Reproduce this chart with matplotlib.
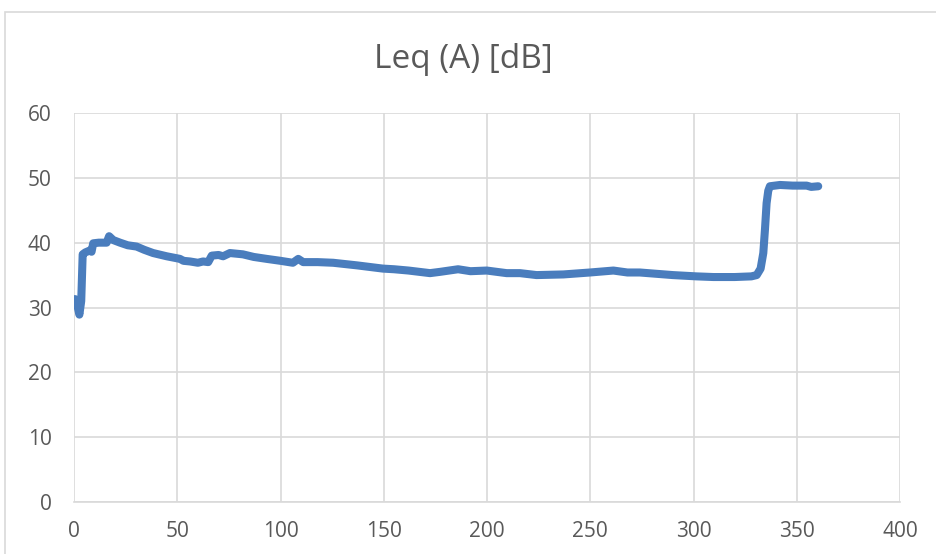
import matplotlib.pyplot as plt
from matplotlib.patches import Rectangle

# time [s] and Leq(A) [dB]
time_s = [0.5, 1.5, 2.6, 3.5, 4.2, 5.5, 7.7, 8.5, 9.3, 12, 15.8, 17, 19, 22.3, 26,
          30.3, 34, 38.3, 44.9, 51.3, 53, 56.2, 60, 62.5, 65, 66.7, 70, 72.2, 75.5,
          81.8, 87, 93.3, 100, 106, 108.6, 111, 118, 125.5, 137, 149.6, 155, 162,
          172.4, 177.3, 186, 192, 199.9, 209.5, 216, 224, 237, 249.9, 261.2, 268,
          274, 282, 290, 301.5, 309.6, 320, 328, 330.6, 332.5, 333.8, 334.6, 335.4,
          336.2, 337, 341.9, 348, 354.8, 357, 360.4]
leq_db = [31.3, 30.5, 28.9, 31.0, 38.2, 38.5, 38.8, 38.6, 39.9, 40.0, 40.0, 41.0,
          40.4, 40.0, 39.6, 39.4, 38.9, 38.4, 37.9, 37.5, 37.2, 37.1, 36.9, 37.1,
          37.0, 38.0, 38.1, 37.9, 38.4, 38.2, 37.8, 37.5, 37.2, 36.9, 37.5, 37.0,
          37.0, 36.9, 36.5, 36.0, 35.9, 35.7, 35.3, 35.5, 35.9, 35.6, 35.7, 35.3,
          35.3, 35.0, 35.1, 35.4, 35.7, 35.4, 35.4, 35.2, 35.0, 34.8, 34.7, 34.7,
          34.8, 35.0, 36.0, 38.4, 42.0, 46.1, 48.0, 48.7, 48.9, 48.8, 48.8, 48.6, 48.7]

x_ticks = [0, 50, 100, 150, 200, 250, 300, 350, 400]
y_ticks = [0, 10, 20, 30, 40, 50, 60]

plt.rcParams['font.family'] = ['Open Sans', 'DejaVu Sans']
text_color = '#595959'
grid_color = '#d9d9d9'

fig = plt.figure(figsize=(9.36, 5.54), dpi=100)
ax = fig.add_axes([74 / 936, 52 / 554, 826 / 936, 389 / 554])

# chart border (cropped Excel chart area)
fig.patches.append(Rectangle((5 / 936, -0.1), 1.1, (554 - 12) / 554 + 0.1,
                             transform=fig.transFigure, fill=False,
                             edgecolor=grid_color, linewidth=1.2))

ax.plot(time_s, leq_db, color='#4a7dbd', linewidth=5.8, solid_joinstyle='round',
        solid_capstyle='round')

ax.set_xlim(0, 400)
ax.set_ylim(0, 60)
ax.set_xticks(x_ticks)
ax.set_yticks(y_ticks)
ax.grid(True, color=grid_color, linewidth=1.2)
ax.set_axisbelow(True)
for side in ['top', 'right', 'left']:
    ax.spines[side].set_visible(False)
ax.spines['bottom'].set_color(grid_color)
ax.spines['bottom'].set_linewidth(1.2)
ax.tick_params(length=0, labelsize=15, colors=text_color)
ax.tick_params(axis='y', pad=16)
ax.tick_params(axis='x', pad=14)

fig.text(0.495, 1 - 60 / 554, 'Leq (A) [dB]', ha='center', va='center',
         fontsize=24, color=text_color)

fig.savefig('out.png', dpi=100)
